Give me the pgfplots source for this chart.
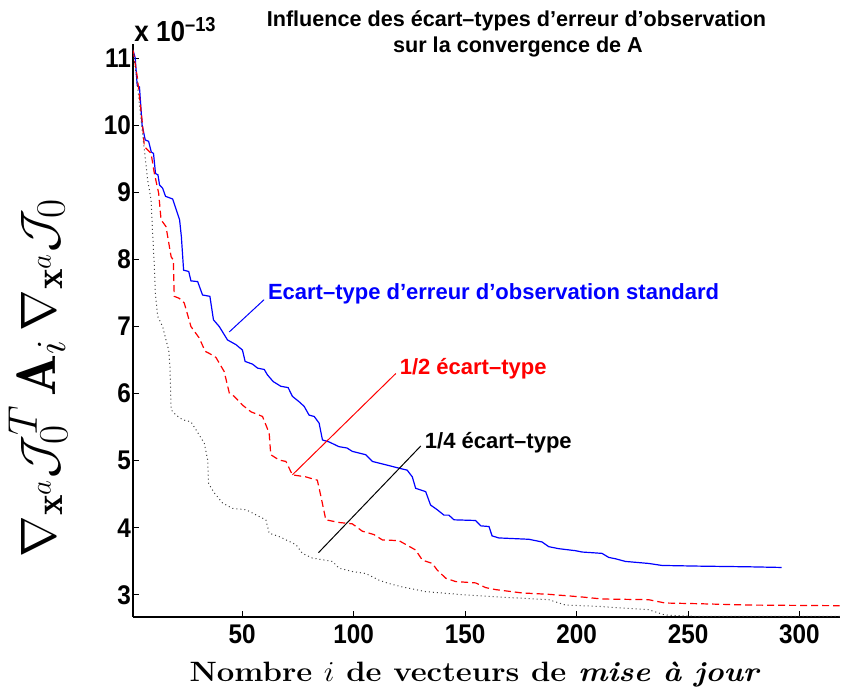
\documentclass[border=0pt]{standalone}
\usepackage{fontspec}
\usepackage{pgfplots}
\pgfplotsset{compat=1.18}
\newfontfamily\hv{Liberation Sans}
\definecolor{mblue}{rgb}{0,0,1}
\definecolor{mred}{rgb}{1,0,0}
\begin{document}
\begin{tikzpicture}
\path[use as bounding box] (-66.5pt,-39pt) rectangle (354pt,308.5pt);
\begin{axis}[at={(0pt,0pt)}, anchor=south west, scale only axis,
  width=353.3pt, height=286.5pt,
  xmin=1, xmax=318, ymin=2.672, ymax=11.21,
  axis x line*=bottom, axis y line*=left,
  axis line style={line width=0.7pt, black},
  tick align=inside, major tick length=3pt,
  tick style={line width=0.5pt, black},
  xtick={50,100,...,300}, ytick={3,4,...,11},
  /pgf/number format/assume math mode=true,
  ticklabel style={font=\hv\bfseries\fontsize{13.5}{15}\selectfont, xscale=0.9},
  yticklabel style={inner xsep=0pt, xshift=-1pt},
  xticklabel style={inner ysep=0pt, yshift=-3.5pt},
]
\addplot[mblue, line width=0.6pt] coordinates {
(1,11.12)(2,11.0)(2.9,10.59)(3.9,10.57)(5.1,10.0)(6.5,9.78)(8,9.76)(9.2,9.6)(10.2,9.58)
(11.1,9.28)(12.2,9.26)(12.9,9.11)(14.3,9.06)(15.6,8.94)(18.8,8.90)(20,8.78)(21.9,8.59)
(22.7,8.34)(23.7,7.84)(26,7.82)(27,7.68)(30,7.67)(32.2,7.47)(35.5,7.45)(37.1,7.10)
(39.7,7.00)(43.4,6.80)(47.2,6.73)(50.1,6.65)(51.3,6.48)(54.6,6.44)(56.9,6.38)(59.9,6.36)
(61.3,6.28)(63.9,6.18)(67.3,6.11)(70.6,6.09)(72.5,5.96)(75.5,5.88)(77.8,5.81)(80,5.68)
(82.3,5.66)(84.5,5.56)(86,5.31)(89,5.28)(93.4,5.21)(97,5.19)(99.4,5.14)(105.4,5.09)
(108.4,4.99)(114.4,4.94)(120.3,4.89)(124,4.86)(126.3,4.76)(127.8,4.59)(132.3,4.54)
(134.5,4.34)(137.5,4.27)(140.5,4.19)(142.7,4.19)(145,4.12)(154.7,4.11)(157,4.03)
(160.7,4.02)(162.1,3.88)(165.1,3.85)(178.6,3.83)(184.5,3.79)(187.5,3.72)(192,3.69)
(199.5,3.66)(202.5,3.64)(211.4,3.62)(214.4,3.56)(217.4,3.54)(221.9,3.50)(232.3,3.47)
(238.3,3.44)(254.7,3.43)(277.1,3.42)(292,3.41)
};
\addplot[mred, line width=0.6pt, dash pattern=on 3.5pt off 2pt] coordinates {
(1,11.12)(3,10.7)(5.3,10.0)(6.1,9.68)(9.1,9.58)(10.6,9.28)(12.5,8.99)(13.6,8.59)
(15.8,8.49)(18.1,8.04)(19.1,7.99)(19.5,7.45)(21.8,7.42)(24,7.35)(27,7.00)(30.7,6.83)
(33.4,6.63)(35.2,6.60)(38.2,6.54)(41.9,6.33)(44.2,6.01)(46.4,5.96)(50.1,5.83)(53.9,5.73)
(59.1,5.66)(62.1,5.41)(62.8,5.09)(66.6,5.01)(69.6,4.99)(72.5,4.79)(78.5,4.76)(83.7,4.71)
(85.3,4.47)(87.5,4.12)(93.5,4.08)(99.4,4.06)(103.9,3.95)(109.1,3.90)(112.9,3.82)
(120.3,3.81)(127.8,3.67)(130.8,3.52)(135.3,3.47)(137.5,3.37)(141.3,3.25)(145.7,3.20)
(154.7,3.18)(159.2,3.11)(163.7,3.08)(175.6,3.03)(187.5,3.01)(202.5,2.97)(211.4,2.94)
(232.3,2.93)(239.8,2.88)(254.7,2.87)(277.1,2.85)(318,2.84)
};
\addplot[black!75, line width=0.5pt, dash pattern=on 0.5pt off 1.5pt] coordinates {
(1,11.12)(3,10.6)(4.6,10.08)(6.1,9.63)(7.6,9.18)(9.1,8.89)(9.8,8.39)(10.6,7.89)(11,7.50)
(12.1,7.15)(14.3,7.00)(15.8,6.80)(17,6.65)(17.6,6.40)(18.1,5.76)(20.3,5.68)(23.3,5.61)
(27,5.58)(29.3,5.46)(33,5.26)(34.5,5.01)(34.9,4.66)(37.5,4.52)(41.2,4.37)(45.7,4.29)
(51.7,4.27)(57.6,4.17)(60.6,4.12)(62.1,3.92)(66.6,3.87)(74.1,3.75)(77,3.62)(81.5,3.55)
(90.5,3.50)(93.4,3.40)(99.4,3.35)(105.4,3.32)(111.4,3.22)(115.9,3.17)(121.8,3.12)
(132.3,3.05)(150.2,3.00)(165.1,2.97)(187.5,2.93)(195,2.85)(210,2.83)(232.3,2.78)
(239.8,2.70)(254.7,2.68)(318,2.68)
};
\draw[mblue, line width=0.5pt] (axis cs:44.2,6.92) -- (axis cs:59.8,7.40);
\draw[mred, line width=0.5pt] (axis cs:72.5,4.79) -- (axis cs:118.9,6.30);
\draw[black, line width=0.5pt] (axis cs:84.2,3.63) -- (axis cs:130.1,5.22);
\node[anchor=base west, inner sep=0pt, text=mblue, font=\hv\bfseries\fontsize{11}{13}\selectfont] at (axis cs:61.4,7.41) {Ecart–type d’erreur d’observation standard};
\node[anchor=base west, inner sep=0pt, text=mred, font=\hv\bfseries\fontsize{11}{13}\selectfont] at (axis cs:120.5,6.28) {1/2 écart–type};
\node[anchor=base west, inner sep=0pt, text=black, font=\hv\bfseries\fontsize{11}{13}\selectfont] at (axis cs:131.8,5.18) {1/4 écart–type};
\end{axis}
\node[anchor=base, inner sep=0pt, font=\hv\bfseries\fontsize{10.8}{12}\selectfont] at (191.75pt,295pt) {Influence des écart–types d’erreur d’observation};
\node[anchor=base, inner sep=0pt, font=\hv\bfseries\fontsize{10.8}{12}\selectfont] at (192.5pt,282.2pt) {sur la convergence de A};
\node[anchor=base west, inner sep=0pt, font=\hv\bfseries\fontsize{14.5}{16}\selectfont, xscale=0.9] at (0.5pt,287.7pt) {x 10\textsuperscript{–13}};
\node[rotate=90, inner sep=0pt] at (-47.5pt,119.5pt) {\fontsize{27.8}{30}\selectfont $\nabla_{\mathbf{x}^a}\mathcal{J}_0^T\,\mathbf{A}_i\,\nabla_{\mathbf{x}^a}\mathcal{J}_0$};
\node[anchor=base, inner sep=0pt, xscale=1.11] at (171pt,-32.5pt) {\fontsize{14}{16}\selectfont\bfseries Nombre $i$ de vecteurs de \textit{mise à jour}};
\end{tikzpicture}
\end{document}
